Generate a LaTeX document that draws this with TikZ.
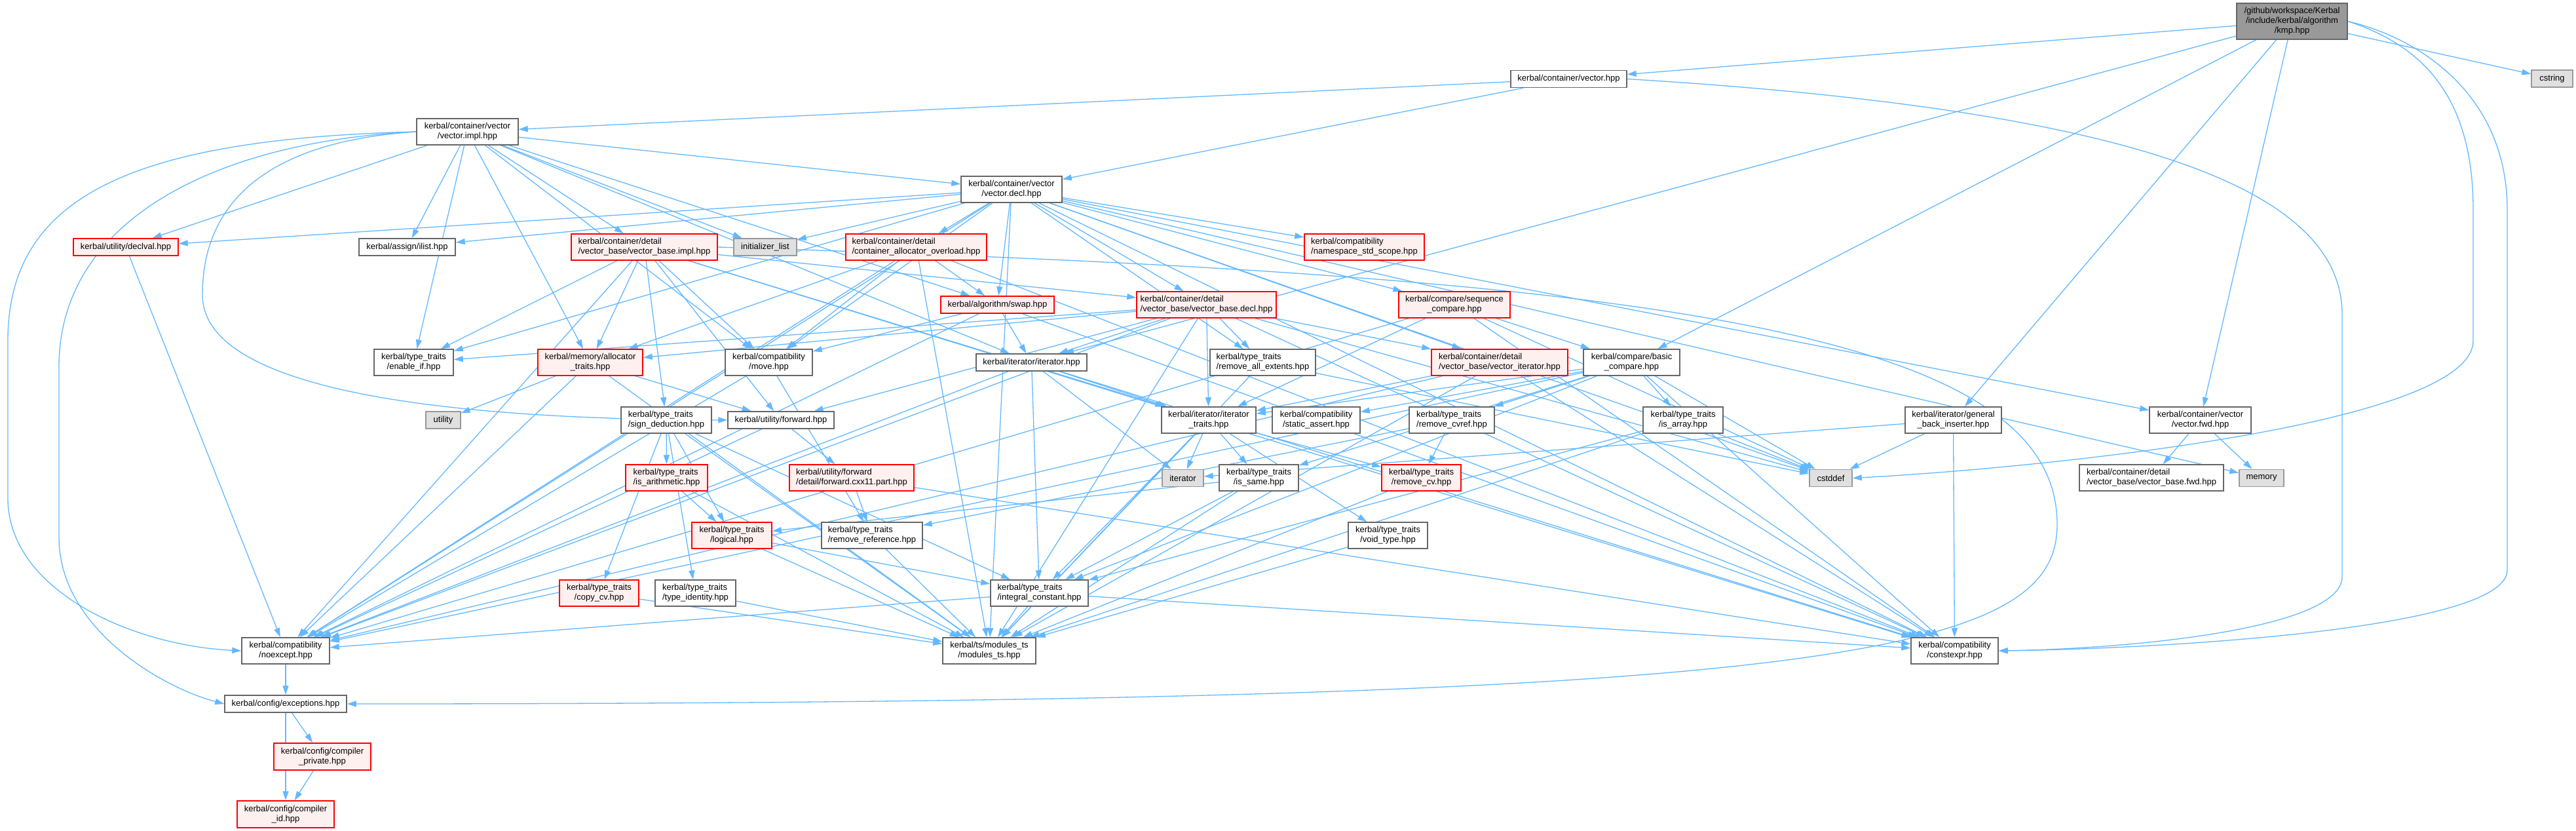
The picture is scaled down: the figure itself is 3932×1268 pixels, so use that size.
\documentclass[tikz,border=0pt]{standalone}
\usepackage{fontspec}
\setmainfont{Liberation Sans}
\usetikzlibrary{arrows.meta}
\definecolor{edgec}{HTML}{63B8FF}
\definecolor{nborder}{HTML}{666666}
\definecolor{rborder}{HTML}{FF0000}
\definecolor{rfill}{HTML}{FFF0F0}
\definecolor{gfill}{HTML}{E0E0E0}
\definecolor{gborder}{HTML}{999999}
\definecolor{rootfill}{HTML}{999999}
\pgfdeclarelayer{bglayer}
\pgfdeclarelayer{edgelayer}
\pgfsetlayers{bglayer,edgelayer,main}
\tikzset{
  box/.style={draw=nborder, fill=white, line width=1.5pt, inner sep=0pt,
    font=\fontsize{13}{15}\selectfont, align=center},
  redbox/.style={box, draw=rborder, fill=rfill},
  sysbox/.style={box, draw=gborder, fill=gfill},
  rootbox/.style={box, fill=rootfill},
  lft/.style={align=left},
  sz/.style 2 args={minimum width=#1pt, minimum height=#2pt},
  edge/.style={draw=edgec, line width=1.3pt, -{Triangle[length=14pt,width=9pt]}}
}
\begin{document}
\begin{tikzpicture}[x=1pt,y=-1pt]
\useasboundingbox (0,0) rectangle (3932,1268);
\begin{pgfonlayer}{bglayer}
\fill[white] (0,0) rectangle (3932,1268);
\end{pgfonlayer}
% row 0
\node[rootbox, sz={169}{55}] (kmp) at (3498.5,32.5) {/github/workspace/Kerbal\\/include/kerbal/algorithm\\/kmp.hpp};
\node[sysbox, sz={63}{26}] (cstring) at (3895.5,120) {cstring};
\node[box, sz={177}{26}] (vec) at (2394.5,120.5) {kerbal/container/vector.hpp};
\node[box, sz={155}{40}] (vimpl) at (713.5,201) {kerbal/container/vector\\/vector.impl.hpp};
\node[box, sz={154}{40}] (vdecl) at (1544,289) {kerbal/container/vector\\/vector.decl.hpp};
% row
\node[redbox, sz={160}{26}] (declval) at (192,377) {kerbal/utility/declval.hpp};
\node[box, sz={147}{26}] (ilist) at (621.5,377) {kerbal/assign/ilist.hpp};
\node[redbox, lft, sz={223}{40}] (vbimpl) at (983.5,377) {kerbal/container/detail\\/vector\_base/vector\_base.impl.hpp};
\node[sysbox, sz={96}{26}] (initl) at (1168,377) {initializer\_list};
\node[redbox, lft, sz={215}{40}] (cao) at (1398.5,377) {kerbal/container/detail\\/container\_allocator\_overload.hpp};
\node[redbox, lft, sz={183}{40}] (nss) at (2082.5,377) {kerbal/compatibility\\/namespace\_std\_scope.hpp};
% row
\node[redbox, sz={173}{26}] (swap) at (1522.5,465) {kerbal/algorithm/swap.hpp};
\node[redbox, lft, sz={213}{40}] (vbdecl) at (1841.5,465) {kerbal/container/detail\\/vector\_base/vector\_base.decl.hpp};
\node[redbox, sz={170}{40}] (seqcmp) at (2220,465) {kerbal/compare/sequence\\\_compare.hpp};
% row
\node[box, sz={121}{40}] (enableif) at (631.5,553) {kerbal/type\_traits\\/enable\_if.hpp};
\node[redbox, sz={160}{40}] (alloctr) at (901,553) {kerbal/memory/allocator\\\_traits.hpp};
\node[box, sz={133}{40}] (move) at (1173.5,553) {kerbal/compatibility\\/move.hpp};
\node[box, sz={169}{26}] (iter) at (1574.5,553) {kerbal/iterator/iterator.hpp};
\node[box, lft, sz={161}{40}] (rae) at (1927.5,553) {kerbal/type\_traits\\/remove\_all\_extents.hpp};
\node[redbox, lft, sz={208}{40}] (viter) at (2289,553) {kerbal/container/detail\\/vector\_base/vector\_iterator.hpp};
\node[box, sz={147}{40}] (bascmp) at (2490.5,553) {kerbal/compare/basic\\\_compare.hpp};
% row
\node[box, sz={147}{40}] (backins) at (2981.5,641) {kerbal/iterator/general\\\_back\_inserter.hpp};
\node[box, sz={155}{40}] (vfwd) at (3358.5,641) {kerbal/container/vector\\/vector.fwd.hpp};
\node[sysbox, sz={53}{26}] (utility) at (676.5,641) {utility};
\node[box, lft, sz={138}{40}] (signded) at (1017,641) {kerbal/type\_traits\\/sign\_deduction.hpp};
\node[box, sz={162}{26}] (forward) at (1192,641) {kerbal/utility/forward.hpp};
\node[box, sz={144}{40}] (itertr) at (1845,641) {kerbal/iterator/iterator\\\_traits.hpp};
\node[box, sz={134}{40}] (sassert) at (2009,641) {kerbal/compatibility\\/static\_assert.hpp};
\node[box, lft, sz={130}{40}] (rcvref) at (2216,641) {kerbal/type\_traits\\/remove\_cvref.hpp};
\node[box, sz={122}{40}] (isarray) at (2569,641) {kerbal/type\_traits\\/is\_array.hpp};
% row
\node[sysbox, sz={65}{26}] (cstddef) at (2794.5,729.5) {cstddef};
\node[sysbox, sz={68}{26}] (memory) at (3452,729.5) {memory};
\node[box, lft, sz={220}{40}] (vbfwd) at (3284,729) {kerbal/container/detail\\/vector\_base/vector\_base.fwd.hpp};
\node[redbox, lft, sz={125}{40}] (isarith) at (1017.5,729) {kerbal/type\_traits\\/is\_arithmetic.hpp};
\node[redbox, lft, sz={190}{40}] (fwdcxx) at (1300,729) {kerbal/utility/forward\\/detail/forward.cxx11.part.hpp};
\node[sysbox, sz={63}{26}] (iterstd) at (1805.5,729.5) {iterator};
\node[box, sz={121}{40}] (issame) at (1921.5,729) {kerbal/type\_traits\\/is\_same.hpp};
\node[redbox, sz={121}{40}] (removecv) at (2169.5,729) {kerbal/type\_traits\\/remove\_cv.hpp};
% row
\node[redbox, sz={122}{40}] (logical) at (1117,817) {kerbal/type\_traits\\/logical.hpp};
\node[box, lft, sz={154}{40}] (removeref) at (1331,817) {kerbal/type\_traits\\/remove\_reference.hpp};
\node[box, sz={121}{40}] (voidtype) at (2118.5,817) {kerbal/type\_traits\\/void\_type.hpp};
% row
\node[redbox, sz={121}{40}] (copycv) at (914.5,905) {kerbal/type\_traits\\/copy\_cv.hpp};
\node[box, lft, sz={123}{40}] (typeid) at (1061.5,905) {kerbal/type\_traits\\/type\_identity.hpp};
\node[box, lft, sz={149}{40}] (intconst) at (1586.5,905) {kerbal/type\_traits\\/integral\_constant.hpp};
% row
\node[box, sz={134}{40}] (noexcept) at (436,993) {kerbal/compatibility\\/noexcept.hpp};
\node[box, sz={142}{40}] (modts) at (1510,993) {kerbal/ts/modules\_ts\\/modules\_ts.hpp};
\node[box, sz={133}{40}] (constexpr) at (2983.5,993) {kerbal/compatibility\\/constexpr.hpp};
% bottom
\node[box, sz={186}{26}] (exceptions) at (436,1074) {kerbal/config/exceptions.hpp};
\node[redbox, sz={148}{41}] (cpriv) at (492,1154.5) {kerbal/config/compiler\\\_private.hpp};
\node[redbox, sz={148}{41}] (cid) at (436,1242.5) {kerbal/config/compiler\\\_id.hpp};

\begin{pgfonlayer}{edgelayer}
\foreach \a/\b in {
  kmp/vec, kmp/cstring, kmp/bascmp, kmp/iter, kmp/backins, kmp/vfwd,
  vec/vimpl, vec/vdecl,
  vimpl/vdecl, vimpl/declval, vimpl/ilist, vimpl/vbimpl, vimpl/initl,
  vimpl/enableif, vimpl/move, vimpl/swap, vimpl/alloctr, vimpl/iter,
  vdecl/declval, vdecl/ilist, vdecl/initl, vdecl/cao, vdecl/nss, vdecl/swap, vdecl/vbdecl, vdecl/seqcmp,
  vdecl/viter, vdecl/enableif, vdecl/move, vdecl/rae, vdecl/vfwd, vdecl/memory, vdecl/cstddef,
  vdecl/noexcept, vdecl/constexpr, vdecl/modts,
  vbimpl/vbdecl, vbimpl/alloctr, vbimpl/enableif, vbimpl/move, vbimpl/forward, vbimpl/signded,
  vbimpl/itertr, vbimpl/noexcept, vbimpl/constexpr,
  cao/alloctr, cao/move, cao/swap, cao/noexcept, cao/constexpr, cao/modts,
  swap/iter, swap/move, swap/noexcept, swap/constexpr,
  vbdecl/alloctr, vbdecl/iter, vbdecl/itertr, vbdecl/rae, vbdecl/viter, vbdecl/enableif, vbdecl/forward,
  vbdecl/cstddef, vbdecl/noexcept, vbdecl/constexpr, vbdecl/modts,
  seqcmp/bascmp, seqcmp/itertr, seqcmp/cstddef, seqcmp/noexcept, seqcmp/constexpr,
  alloctr/utility, alloctr/forward, alloctr/noexcept, alloctr/modts,
  move/removeref, move/noexcept,
  iter/itertr, iter/iterstd, iter/intconst, iter/noexcept, iter/constexpr,
  rae/cstddef, rae/modts,
  viter/itertr, viter/noexcept, viter/constexpr, viter/modts,
  bascmp/sassert, bascmp/rcvref, bascmp/isarray, bascmp/cstddef, bascmp/itertr, bascmp/issame,
  bascmp/intconst, bascmp/constexpr, bascmp/noexcept,
  backins/cstddef, backins/iterstd, backins/constexpr,
  vfwd/vbfwd, vfwd/memory,
  signded/isarith, signded/logical, signded/copycv, signded/typeid, signded/intconst, signded/modts,
  forward/fwdcxx, forward/noexcept,
  itertr/iterstd, itertr/issame, itertr/removecv, itertr/voidtype, itertr/intconst, itertr/modts,
  rcvref/removecv, rcvref/removeref,
  isarray/cstddef, isarray/intconst, isarray/modts,
  isarith/logical, isarith/modts,
  fwdcxx/removeref, fwdcxx/constexpr,
  issame/intconst, issame/logical, issame/modts,
  removecv/modts, logical/intconst, logical/modts, removeref/modts, voidtype/modts,
  copycv/modts, typeid/modts,
  intconst/noexcept, intconst/constexpr, intconst/modts,
  noexcept/exceptions, declval/noexcept,
  exceptions/cpriv, exceptions/cid, cpriv/cid}
  \draw[edge] (\a) -- (\b);
% routed long edges
\draw[edge] (vimpl.west) .. controls (200,212) and (12,300) .. (12,520) -- (12,760)
  .. controls (12,900) and (200,985) .. (noexcept.west);
\draw[edge] (vimpl.west) .. controls (340,215) and (90,330) .. (90,560) -- (90,820)
  .. controls (90,960) and (250,1050) .. (exceptions.west);
\draw[edge] (vimpl.west) .. controls (420,215) and (309,300) .. (309,450)
  .. controls (309,600) and (700,640) .. (forward.west);
\draw[edge] (kmp.east) .. controls (3700,60) and (3827,150) .. (3827,320) -- (3827,870)
  .. controls (3827,960) and (3300,990) .. (constexpr.east);
\draw[edge] (vec.east) .. controls (3300,170) and (3575,300) .. (3575,480) -- (3575,880)
  .. controls (3575,960) and (3250,990) .. (constexpr.east);
\draw[edge] (kmp.east) .. controls (3700,70) and (3775,150) .. (3775,320) -- (3775,520)
  .. controls (3775,650) and (3100,715) .. (cstddef.east);
\draw[edge] (vbimpl.east) .. controls (2500,420) and (3140,500) .. (3140,800)
  .. controls (3140,1000) and (2800,1074) .. (exceptions.east);
\end{pgfonlayer}
\end{tikzpicture}
\end{document}
